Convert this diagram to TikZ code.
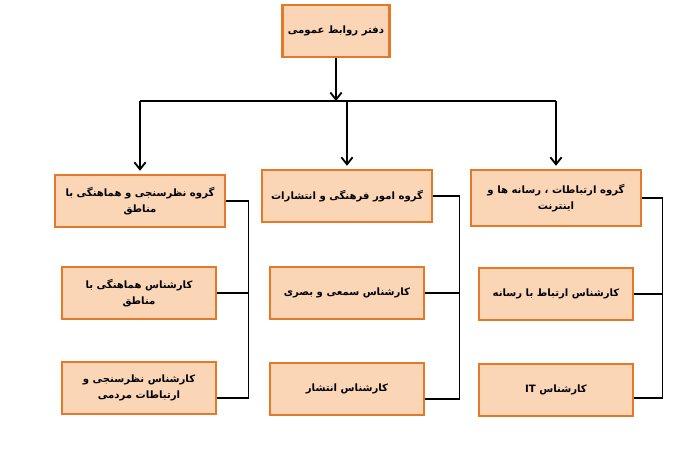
\documentclass[tikz,border=0pt]{standalone}
\usepackage{fontspec}
\newfontfamily\arabicfont[Script=Arabic]{DejaVu Sans}
\TeXXeTstate=1
\usetikzlibrary{positioning,arrows.meta}
\definecolor{boxfill}{RGB}{251,214,182}
\definecolor{boxline}{RGB}{226,122,42}
\newcommand{\fa}[1]{\beginR #1\endR}
\begin{document}
\begin{tikzpicture}[x=0.025cm,y=-0.025cm,
    unit/.style={draw=boxline, fill=boxfill, line width=2pt, align=center,
      font=\arabicfont\bfseries\fontsize{7.2}{11}\selectfont, minimum height=1.3cm, inner sep=2pt},
    groupbox/.style={unit, minimum width=4.25cm},
    staffbox/.style={unit, minimum width=3.85cm},
    link/.style={line width=1.3pt, black},
    arrowlink/.style={link, -{Straight Barb[length=5pt,width=8pt]}, shorten >=2pt}]
    \useasboundingbox (0,0) rectangle (698,450);

    % Head office
    \node[unit, minimum width=2.68cm] (office) at (336,31) {\fa{دفتر روابط عمومی}};

    % Groups
    \node[groupbox] (survey)  at (140,201) {\fa{گروه نظرسنجی و هماهنگی با}\\\fa{مناطق}};
    \node[groupbox] (culture) at (347,196) {\fa{گروه امور فرهنگی و انتشارات}};
    \node[groupbox, minimum height=1.4cm] (media) at (556,198) {\fa{گروه ارتباطات ، رسانه ها و}\\\fa{اینترنت}};

    % Staff
    \node[staffbox] (coord)  at (139,293) {\fa{کارشناس هماهنگی با}\\\fa{مناطق}};
    \node[staffbox] (poll)   at (139,388) {\fa{کارشناس نظرسنجی و}\\\fa{ارتباطات مردمی}};
    \node[staffbox] (audio)  at (347,293) {\fa{کارشناس سمعی و بصری}};
    \node[staffbox] (print)  at (347,389) {\fa{کارشناس انتشار}};
    \node[staffbox] (press)  at (556,294) {\fa{کارشناس ارتباط با رسانه}};
    \node[staffbox] (it)     at (556,390) {\fa{کارشناس \beginL IT\endL}};

    % Tree from the office
    \coordinate (bar) at (336,101);
    \draw[arrowlink, shorten >=0pt] (office) -- (bar);
    \draw[link] (survey |- bar) -- (media |- bar);
    \foreach \g in {survey, culture, media}
        \draw[arrowlink] (\g |- bar) -- (\g);

    % Side links to the staff
    \draw[link] (survey.east) -- ++(22,0) coordinate (k1) |- ([yshift=-0.25cm]poll.east);
    \draw[link] (coord.east) -- (coord.east -| k1);
    \draw[link] (culture.east) -- ++(26,0) coordinate (k2) |- ([yshift=-0.25cm]print.east);
    \draw[link] (audio.east) -- (audio.east -| k2);
    \draw[link] (media.east) -- ++(20,0) coordinate (k3) |- ([yshift=-0.2cm]it.east);
    \draw[link] (press.east) -- (press.east -| k3);
\end{tikzpicture}
\end{document}
